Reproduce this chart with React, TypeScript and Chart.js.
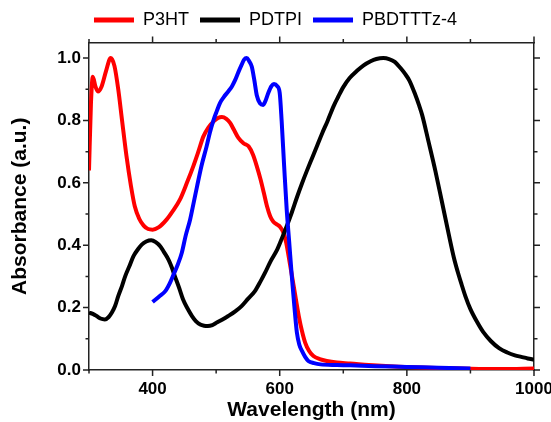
import React, { useEffect, useRef } from "react";
import { Chart, registerables } from "chart.js";

Chart.register(...registerables);

// ---- Data ----
const seriesNames = ["P3HT", "PDTPI", "PBDTTTz-4"];

const p3htX = [300, 303, 306, 310, 314, 320, 327, 334, 340, 346, 352, 359, 366, 372, 379, 386, 393, 400, 410, 422, 432, 443, 454, 464, 472, 480, 488, 496, 503, 509, 516, 522, 528, 535, 543, 551, 558, 564, 570, 575, 580, 585, 590, 596, 601, 606, 610, 614, 618, 622, 626, 630, 635, 640, 646, 653, 663, 674, 690, 711, 740, 780, 820, 860, 900, 950, 1000];
const p3htY = [0.64, 0.85, 0.94, 0.91, 0.893, 0.91, 0.96, 1.0, 0.975, 0.9, 0.8, 0.685, 0.59, 0.525, 0.485, 0.463, 0.452, 0.45, 0.458, 0.482, 0.51, 0.546, 0.6, 0.653, 0.7, 0.749, 0.778, 0.797, 0.808, 0.811, 0.805, 0.792, 0.77, 0.744, 0.727, 0.717, 0.69, 0.653, 0.61, 0.568, 0.525, 0.493, 0.475, 0.466, 0.458, 0.44, 0.41, 0.365, 0.317, 0.269, 0.22, 0.173, 0.125, 0.088, 0.062, 0.045, 0.035, 0.029, 0.024, 0.021, 0.016, 0.011, 0.008, 0.006, 0.004, 0.003, 0.005];

const pdtpiX = [300, 306, 312, 318, 325, 331, 336, 341, 346, 352, 357, 364, 370, 377, 383, 390, 398, 405, 412, 418, 425, 430, 435, 442, 448, 455, 462, 468, 475, 481, 487, 494, 501, 510, 519, 530, 540, 550, 561, 570, 577, 586, 596, 604, 611, 619, 627, 635, 643, 651, 659, 667, 675, 685, 692, 700, 710, 722, 732, 743, 752, 763, 772, 781, 790, 797, 804, 813, 819, 824, 834, 845, 855, 866, 874, 880, 886, 892, 900, 911, 920, 932, 945, 958, 970, 980, 990, 1000];
const pdtpiY = [0.184, 0.18, 0.173, 0.165, 0.162, 0.17, 0.184, 0.205, 0.237, 0.27, 0.301, 0.335, 0.365, 0.387, 0.402, 0.412, 0.416, 0.41, 0.397, 0.378, 0.354, 0.33, 0.301, 0.262, 0.226, 0.197, 0.173, 0.157, 0.146, 0.142, 0.141, 0.144, 0.152, 0.162, 0.173, 0.188, 0.205, 0.228, 0.253, 0.285, 0.312, 0.35, 0.386, 0.425, 0.461, 0.505, 0.553, 0.598, 0.64, 0.68, 0.72, 0.76, 0.797, 0.847, 0.876, 0.907, 0.936, 0.96, 0.977, 0.99, 0.997, 1.0, 0.997, 0.988, 0.968, 0.95, 0.928, 0.884, 0.85, 0.818, 0.733, 0.637, 0.541, 0.434, 0.36, 0.315, 0.275, 0.237, 0.195, 0.152, 0.122, 0.093, 0.07, 0.056, 0.047, 0.042, 0.037, 0.033];

const pbdtX = [400, 410, 420, 427, 433, 440, 446, 452, 459, 465, 470, 477, 485, 490, 496, 501, 506, 512, 519, 525, 530, 535, 540, 544, 548, 552, 556, 560, 564, 569, 574, 578, 582, 587, 591, 596, 600, 603, 607, 611, 615, 619, 623, 627, 631, 635, 640, 645, 654, 664, 690, 711, 750, 800, 850, 900];
const pbdtY = [0.218, 0.235, 0.253, 0.278, 0.306, 0.34, 0.376, 0.43, 0.482, 0.54, 0.589, 0.655, 0.717, 0.76, 0.802, 0.83, 0.856, 0.875, 0.893, 0.91, 0.93, 0.955, 0.978, 0.995, 1.0, 0.99, 0.973, 0.93, 0.88, 0.855, 0.85, 0.865, 0.888, 0.91, 0.917, 0.91, 0.888, 0.8, 0.653, 0.514, 0.408, 0.301, 0.205, 0.12, 0.08, 0.061, 0.042, 0.029, 0.022, 0.018, 0.016, 0.015, 0.012, 0.01, 0.007, 0.005];

const xTickValues = [300, 400, 500, 600, 700, 800, 900, 1000];
const xLabelValues = [400, 600, 800, 1000];
const yTickValues = [0, 0.1, 0.2, 0.3, 0.4, 0.5, 0.6, 0.7, 0.8, 0.9, 1.0];
const yLabelValues = [0, 0.2, 0.4, 0.6, 0.8, 1.0];

const xTitle = "Wavelength (nm)";
const yTitle = "Absorbance (a.u.)";

// ---- Styling ----
const W = 551;
const H = 422;
const PLOT_LEFT = 89;
const PLOT_RIGHT = 534;
const PLOT_TOP = 42.5;
const PLOT_BOTTOM = 370;
const AXIS_COLOR = "#222";
const FONT = "'Liberation Sans', Arial, sans-serif";

const isIn = (arr: number[], v: number) => arr.some((a) => Math.abs(a - v) < 1e-6);

const tickMarks = {
  id: "tickMarks",
  afterDraw(chart: any) {
    const { ctx, chartArea: a, scales } = chart;
    const xs = scales.x;
    const ys = scales.y;
    ctx.save();
    ctx.strokeStyle = AXIS_COLOR;
    ctx.lineWidth = 1.5;
    ctx.beginPath();
    xTickValues.forEach((v) => {
      const p = xs.getPixelForValue(v);
      const len = isIn(xLabelValues, v) ? 6 : 3.5;
      ctx.moveTo(p, a.bottom);
      ctx.lineTo(p, a.bottom + len);
      ctx.moveTo(p, a.top);
      ctx.lineTo(p, a.top - len);
    });
    yTickValues.forEach((v) => {
      const p = ys.getPixelForValue(v);
      const len = isIn(yLabelValues, v) ? 6 : 3.5;
      ctx.moveTo(a.left, p);
      ctx.lineTo(a.left - len, p);
      ctx.moveTo(a.right, p);
      ctx.lineTo(a.right + len, p);
    });
    ctx.stroke();
    ctx.restore();
  },
};

function toPoints(xs: number[], ys: number[]) {
  return xs.map((x, i) => ({ x, y: ys[i] }));
}

export default function App() {
  const canvasRef = useRef<HTMLCanvasElement | null>(null);

  useEffect(() => {
    if (!canvasRef.current) return;
    const border = { display: true, color: AXIS_COLOR, width: 1.5 };
    const hiddenGrid = { display: false, drawTicks: false };
    const chart = new Chart(canvasRef.current, {
      type: "line",
      data: {
        datasets: [
          {
            label: seriesNames[0],
            data: toPoints(p3htX, p3htY),
            borderColor: "#ff0000",
            backgroundColor: "#ff0000",
            pointBorderWidth: 5,
            order: 2,
          },
          {
            label: seriesNames[1],
            data: toPoints(pdtpiX, pdtpiY),
            borderColor: "#000000",
            backgroundColor: "#000000",
            pointBorderWidth: 5,
            order: 1,
          },
          {
            label: seriesNames[2],
            data: toPoints(pbdtX, pbdtY),
            borderColor: "#0000ff",
            backgroundColor: "#0000ff",
            pointBorderWidth: 5,
            order: 0,
          },
        ],
      },
      options: {
        animation: false,
        responsive: false,
        devicePixelRatio: 1,
        layout: { padding: 0 },
        elements: {
          point: { radius: 0, hoverRadius: 0 },
          line: { borderWidth: 4, cubicInterpolationMode: "monotone", fill: false },
        },
        plugins: {
          tooltip: { enabled: false },
          legend: {
            display: true,
            position: "top",
            labels: {
              font: { family: FONT, size: 18 },
              color: "#000",
              usePointStyle: true,
              pointStyle: "line",
              pointStyleWidth: 40,
              padding: 11,
              sort: (a: any, b: any) => a.datasetIndex - b.datasetIndex,
            },
          },
        },
        scales: {
          x: {
            type: "linear",
            position: "bottom",
            min: 300,
            max: 1000,
            grid: hiddenGrid,
            border,
            afterBuildTicks: (s: any) => {
              s.ticks = xTickValues.map((v) => ({ value: v }));
            },
            afterFit: (s: any) => {
              s.height = H - PLOT_BOTTOM;
              s.paddingLeft = 0;
              s.paddingRight = 0;
            },
            ticks: {
              autoSkip: false,
              maxRotation: 0,
              padding: 9,
              color: "#000",
              font: { family: FONT, size: 17, weight: "bold" },
              callback: (v: any) => (isIn(xLabelValues, Number(v)) ? String(v) : ""),
            },
            title: {
              display: true,
              text: xTitle,
              color: "#000",
              font: { family: FONT, size: 21, weight: "bold", lineHeight: 1 },
              padding: 1,
            },
          },
          x2: {
            type: "linear",
            position: "top",
            min: 300,
            max: 1000,
            grid: hiddenGrid,
            border,
            ticks: { display: false },
            afterFit: (s: any) => {
              const lh = s.chart.legend ? s.chart.legend.height : 0;
              s.height = Math.max(0, PLOT_TOP - lh);
              s.paddingLeft = 0;
              s.paddingRight = 0;
            },
          },
          y: {
            type: "linear",
            position: "left",
            min: 0,
            max: 1.05,
            grid: hiddenGrid,
            border,
            afterBuildTicks: (s: any) => {
              s.ticks = yTickValues.map((v) => ({ value: v }));
            },
            afterFit: (s: any) => {
              s.width = PLOT_LEFT;
              s.paddingTop = 0;
              s.paddingBottom = 0;
            },
            ticks: {
              autoSkip: false,
              padding: 8,
              color: "#000",
              font: { family: FONT, size: 17, weight: "bold" },
              callback: (v: any) => (isIn(yLabelValues, Number(v)) ? Number(v).toFixed(1) : ""),
            },
            title: {
              display: true,
              text: yTitle,
              color: "#000",
              font: { family: FONT, size: 21, weight: "bold", lineHeight: 1 },
              padding: 9.5,
            },
          },
          y2: {
            type: "linear",
            position: "right",
            min: 0,
            max: 1.05,
            grid: hiddenGrid,
            border,
            ticks: { display: false },
            afterFit: (s: any) => {
              s.width = W - PLOT_RIGHT;
              s.paddingTop = 0;
              s.paddingBottom = 0;
            },
          },
        },
      },
      plugins: [tickMarks],
    } as any);
    return () => chart.destroy();
  }, []);

  return (
    <div style={{ position: "absolute", left: 0, top: 0, width: W, height: H, background: "#fff" }}>
      <canvas ref={canvasRef} width={W} height={H} style={{ display: "block", width: W, height: H }} />
    </div>
  );
}
